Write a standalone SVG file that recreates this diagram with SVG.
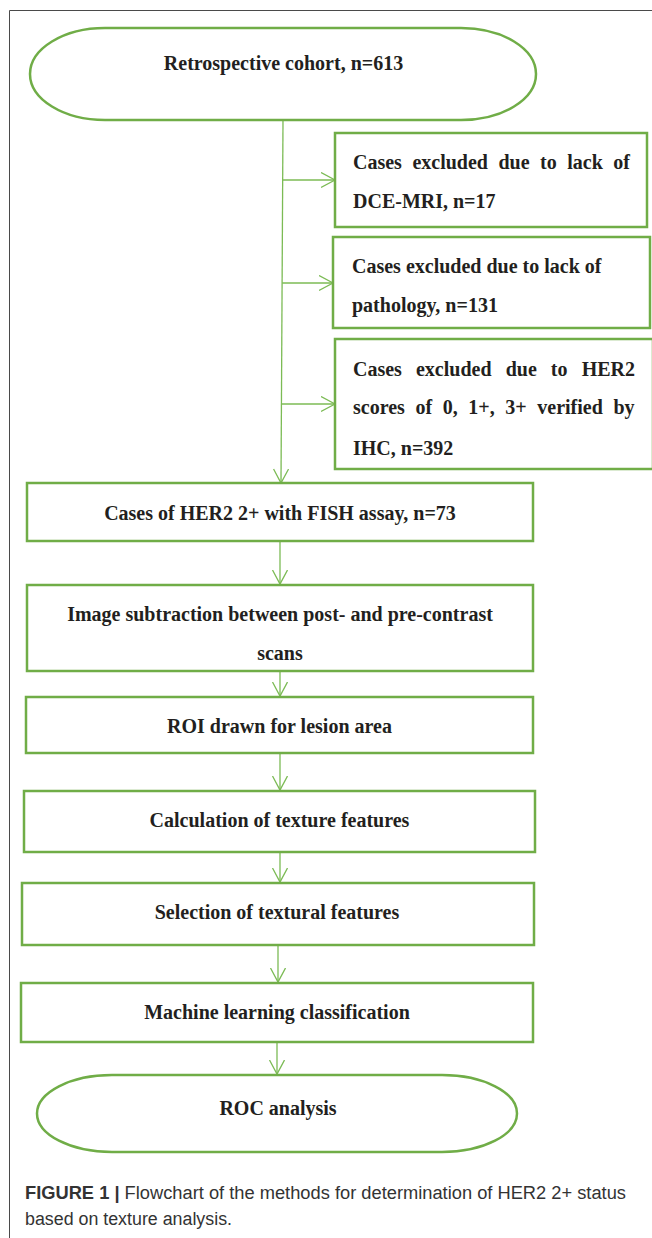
<svg xmlns="http://www.w3.org/2000/svg" width="652" height="1238" viewBox="0 0 652 1238">
<style>
.frame{fill:none;stroke:#4a4a4a;stroke-width:1}
.node{fill:#fff;stroke:#70ad47;stroke-width:2.5}
.conn{fill:none;stroke:#7cbb55;stroke-width:1.3}
.t{font-family:"Liberation Serif","Times New Roman",serif;font-weight:bold;font-size:20px;fill:#231f20}
.c{text-anchor:middle}
.cap{font-family:"Liberation Sans",Arial,sans-serif;font-size:18px;fill:#333}
</style>
<defs>
<marker id="ah" markerUnits="userSpaceOnUse" markerWidth="16" markerHeight="17" refX="14.5" refY="8" orient="auto">
<path d="M0.5,0.5 L14.5,8 L0.5,15.5" fill="none" stroke="#7cbb55" stroke-width="1.3"/>
</marker>
</defs>
<rect width="652" height="1238" fill="#fff"/>
<path class="frame" d="M9.5,1238 V10.5 H652"/>

<g id="connectors">
<path class="conn" d="M283,120 L281,483" marker-end="url(#ah)"/>
<path class="conn" d="M282.8,180 H335" marker-end="url(#ah)"/>
<path class="conn" d="M282.2,283 H333" marker-end="url(#ah)"/>
<path class="conn" d="M281.6,404 H335" marker-end="url(#ah)"/>
<path class="conn" d="M280,541 V584" marker-end="url(#ah)"/>
<path class="conn" d="M280,671 V696" marker-end="url(#ah)"/>
<path class="conn" d="M280,753 V790" marker-end="url(#ah)"/>
<path class="conn" d="M280,852 V882" marker-end="url(#ah)"/>
<path class="conn" d="M278,945 V982" marker-end="url(#ah)"/>
<path class="conn" d="M277,1042 V1074" marker-end="url(#ah)"/>
</g>

<g id="start">
<rect class="node" x="30" y="28" width="506" height="92" rx="75" ry="46"/>
<text class="t c" x="283.5" y="70">Retrospective cohort, n=613</text>
</g>

<g id="excl1">
<rect class="node" x="335" y="133" width="312" height="94"/>
<text class="t" x="353" y="169" word-spacing="5.5">Cases excluded due to lack of</text>
<text class="t" x="353" y="208">DCE-MRI, n=17</text>
</g>

<g id="excl2">
<rect class="node" x="333" y="237" width="317" height="91"/>
<text class="t" x="352" y="273">Cases excluded due to lack of</text>
<text class="t" x="352" y="312">pathology, n=131</text>
</g>

<g id="excl3">
<rect class="node" x="335" y="339" width="318" height="130"/>
<text class="t" x="353" y="376" word-spacing="9.1">Cases excluded due to HER2</text>
<text class="t" x="353" y="414" word-spacing="5.6">scores of 0, 1+, 3+ verified by</text>
<text class="t" x="353" y="455">IHC, n=392</text>
</g>

<g id="fish">
<rect class="node" x="27" y="483" width="506" height="58"/>
<text class="t c" x="280" y="520">Cases of HER2 2+ with FISH assay, n=73</text>
</g>

<g id="subtraction">
<rect class="node" x="27" y="585" width="506" height="86"/>
<text class="t c" x="280" y="621">Image subtraction between post- and pre-contrast</text>
<text class="t c" x="280" y="660">scans</text>
</g>

<g id="roi">
<rect class="node" x="26" y="697" width="507" height="56"/>
<text class="t c" x="279.5" y="733">ROI drawn for lesion area</text>
</g>

<g id="calc">
<rect class="node" x="24" y="791" width="511" height="61"/>
<text class="t c" x="279.5" y="827">Calculation of texture features</text>
</g>

<g id="select">
<rect class="node" x="22" y="883" width="512" height="62"/>
<text class="t c" x="277" y="919">Selection of textural features</text>
</g>

<g id="ml">
<rect class="node" x="21" y="983" width="512" height="59"/>
<text class="t c" x="277" y="1019">Machine learning classification</text>
</g>

<g id="end">
<rect class="node" x="37" y="1075" width="480" height="77" rx="75" ry="38.5"/>
<text class="t c" x="278" y="1115">ROC analysis</text>
</g>

<g id="caption">
<text class="cap" x="25" y="1199" textLength="601" lengthAdjust="spacingAndGlyphs"><tspan font-weight="bold">FIGURE 1 |</tspan> Flowchart of the methods for determination of HER2 2+ status</text>
<text class="cap" x="25" y="1225" textLength="207" lengthAdjust="spacingAndGlyphs">based on texture analysis.</text>
</g>
</svg>
